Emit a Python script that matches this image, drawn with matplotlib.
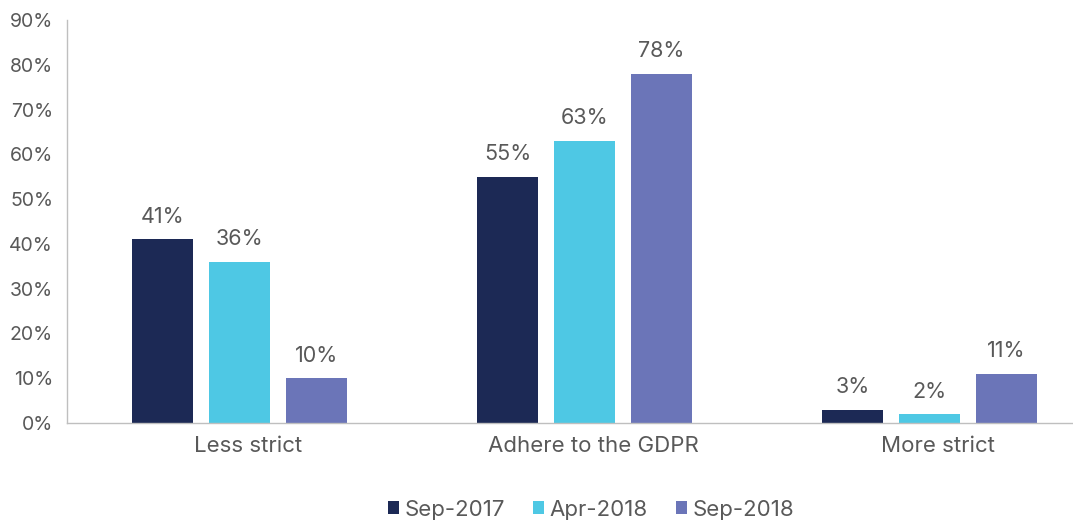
import numpy as np
import matplotlib.pyplot as plt

categories = ["Less strict", "Adhere to the GDPR", "More strict"]
series_names = ["Sep-2017", "Apr-2018", "Sep-2018"]
sep_2017 = [41, 55, 3]
apr_2018 = [36, 63, 2]
sep_2018 = [10, 78, 11]
y_ticks = [0, 10, 20, 30, 40, 50, 60, 70, 80, 90]

colors = ["#1c2955", "#4ec8e4", "#6b75b8"]
text_color = "#595959"

plt.rcParams["font.family"] = ["Inter", "DejaVu Sans"]

fig = plt.figure(figsize=(10.73, 5.21), dpi=100)
ax = fig.add_axes([67 / 1073, 1 - 423 / 521, 1006 / 1073, 403 / 521])

x = np.arange(len(categories))
width = 0.177
step = 0.222
for i, (name, vals) in enumerate(zip(series_names, [sep_2017, apr_2018, sep_2018])):
    pos = x + (i - 1) * step
    bars = ax.bar(pos, vals, width, color=colors[i], label=name, zorder=2)
    for b, v in zip(bars, vals):
        ax.annotate(f"{v}%", xy=(b.get_x() + b.get_width() / 2, v),
                    xytext=(0, 9), textcoords="offset points",
                    ha="center", va="bottom", fontsize=15.5, color=text_color)

ax.set_xlim(-0.5, 2.416)
ax.set_ylim(0, 90)
ax.set_yticks(y_ticks)
ax.set_yticklabels([f"{t}%" for t in y_ticks])
ax.set_xticks(x + 0.025)
ax.set_xticklabels(categories, fontsize=16)
ax.tick_params(axis="both", length=0, colors=text_color)
ax.tick_params(axis="y", labelsize=14, pad=10)
ax.tick_params(axis="x", pad=9)

for s in ["top", "right"]:
    ax.spines[s].set_visible(False)
for s in ["left", "bottom"]:
    ax.spines[s].set_color("#bfbfbf")
    ax.spines[s].set_linewidth(1.0)

leg = ax.legend(loc="center", bbox_to_anchor=(0.521, -0.215), ncol=3,
                frameon=False, fontsize=16, handlelength=0.5, handleheight=0.5,
                handletextpad=0.25, columnspacing=1.25)
for t in leg.get_texts():
    t.set_color(text_color)

fig.savefig("out.png", dpi=100)
